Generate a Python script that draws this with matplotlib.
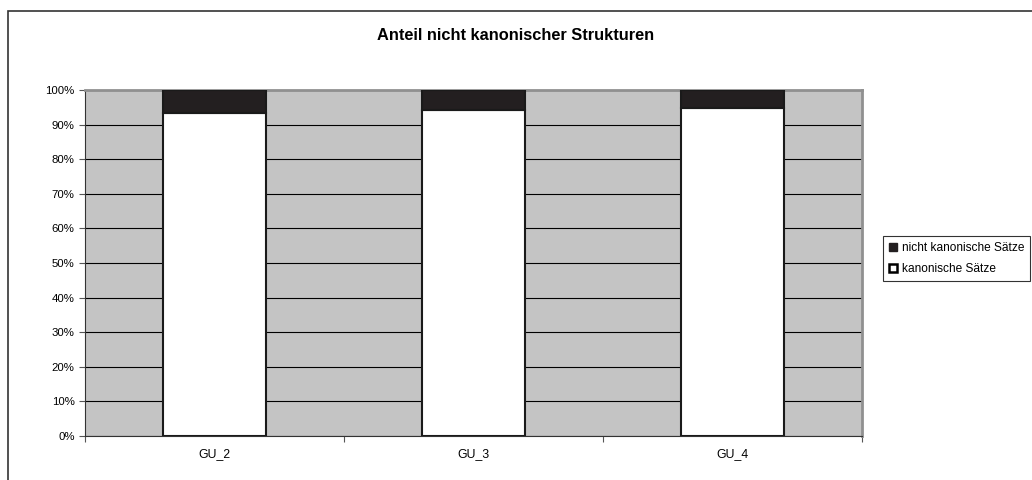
import matplotlib.pyplot as plt
from matplotlib.patches import Patch, Rectangle
import numpy as np

plt.rcParams['font.family'] = ['Liberation Sans', 'DejaVu Sans']

# Daten (Anteile in Prozent)
kategorien = ['GU_2', 'GU_3', 'GU_4']
kanonisch = [93.3, 94.2, 94.9]
nicht_kanonisch = [6.7, 5.8, 5.1]

fig = plt.figure(figsize=(10.32, 4.8), dpi=100)
ax = fig.add_axes([85 / 1032, 44 / 480, 777 / 1032, 346 / 480])

x = np.arange(len(kategorien))
ax.set_facecolor('#c4c4c4')
ax.bar(x, kanonisch, width=0.4, color='white', edgecolor='#1a1a1a', linewidth=1.5,
       label='kanonische Sätze', zorder=3)
ax.bar(x, nicht_kanonisch, width=0.4, bottom=kanonisch, color='#231f20',
       edgecolor='#1a1a1a', linewidth=1.5, label='nicht kanonische Sätze', zorder=3)

ax.set_xlim(-0.5, len(kategorien) - 0.5)
ax.set_ylim(0, 100)
ax.set_yticks(np.arange(0, 101, 10))
ax.set_yticklabels([str(v) + '%' for v in range(0, 101, 10)], fontsize=8.2)
ax.yaxis.grid(True, color='black', linewidth=0.8, zorder=1)
ax.set_axisbelow(True)

# Kategorien als Minor-Ticks, Major-Ticks an den Grenzen
ax.set_xticks(np.arange(-0.5, len(kategorien), 1))
ax.set_xticklabels([])
ax.set_xticks(x, minor=True)
ax.set_xticklabels(kategorien, minor=True, fontsize=8.8)
ax.tick_params(axis='x', which='minor', length=0, pad=9)
ax.tick_params(axis='x', which='major', length=4, direction='out', color='#555555')
ax.tick_params(axis='y', length=4, direction='out', color='#555555')

for s in ['left', 'bottom']:
    ax.spines[s].set_color('#333333')
for s in ['top', 'right']:
    ax.spines[s].set_color('#909090')
    ax.spines[s].set_linewidth(2)

fig.text(0.5, 1 - 35 / 480, 'Anteil nicht kanonischer Strukturen', ha='center', va='center',
         fontsize=11.8, fontweight='bold')

handles = [Patch(facecolor='#231f20', edgecolor='#231f20', label='nicht kanonische Sätze'),
           Patch(facecolor='white', edgecolor='black', linewidth=1.8, label='kanonische Sätze')]
leg = fig.legend(handles=handles, loc='upper left', bbox_to_anchor=(883 / 1032, 1 - 236 / 480),
                 fontsize=8.6, frameon=True, fancybox=False, handlelength=0.7, handleheight=0.7,
                 handletextpad=0.35, borderpad=0.5, borderaxespad=0, labelspacing=0.75)
leg.get_frame().set_edgecolor('black')
leg.get_frame().set_linewidth(0.8)

# äußerer Rahmen
fig.patches.append(Rectangle((8 / 1032, -0.1), 1.2, 1 - 11 / 480 + 0.1, transform=fig.transFigure,
                             fill=False, edgecolor='#333333', linewidth=1.2))

fig.savefig('out.png', dpi=100)
